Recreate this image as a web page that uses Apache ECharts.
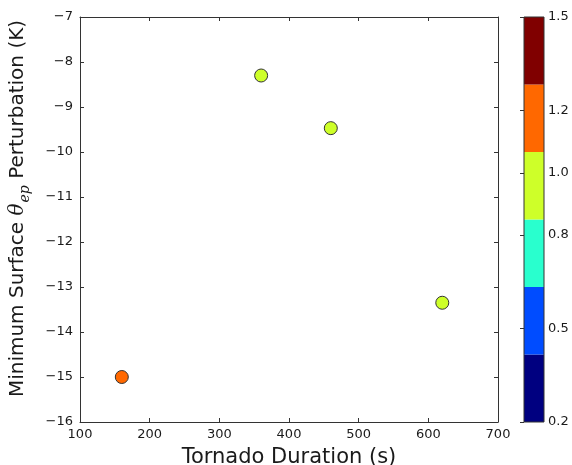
<!DOCTYPE html>
<html>
<head>
<meta charset="utf-8">
<script src="https://cdn.jsdelivr.net/npm/echarts@6/dist/echarts.min.js"></script>
<style>
  html, body { margin: 0; padding: 0; background: #fff; }
  #chart { width: 572px; height: 465px; }
</style>
</head>
<body>
<div id="chart"></div>
<script>
// Tornado duration vs. minimum surface theta_ep perturbation, coloured by a third quantity
const durations = [160, 360, 460, 620];
const thetaPerturbation = [-15.0, -8.3, -9.47, -13.35];
const colorValues = [1.2, 1.0, 1.0, 1.0];

// Discrete colour scale (6 jet levels between 0.2 and 1.5)
const colorEdges = [0.2, 0.4167, 0.6333, 0.85, 1.0667, 1.2833, 1.5];
const colorLevels = ['#000080', '#004cff', '#29ffce', '#ceff29', '#ff6800', '#800000'];
const colorbarTicks = [0.2, 0.5, 0.8, 1.0, 1.2, 1.5];

const FONT = 'DejaVu Sans';
const TXT = '#1a1a1a';
const LINE = '#333333';

const minus = v => String(v).replace('-', '\u2212');

const points = durations.map((d, i) => [d, thetaPerturbation[i], colorValues[i]]);
const bands = colorLevels.map((c, i) => [colorEdges[i], colorEdges[i + 1], i]);

function frameAxis(extra) {
  return Object.assign({
    type: 'value',
    axisLine: { show: true, onZero: false, lineStyle: { color: LINE, width: 1 } },
    axisTick: { show: true, inside: true, length: 4, lineStyle: { color: LINE } },
    splitLine: { show: false },
    axisLabel: { show: false }
  }, extra);
}

const chart = echarts.init(document.getElementById('chart'), null, { renderer: 'canvas' });

chart.setOption({
  animation: false,
  backgroundColor: '#ffffff',
  textStyle: { fontFamily: FONT },
  grid: [
    { left: 80, top: 17, right: 74, bottom: 43, containLabel: false, outerBoundsMode: 'none' },
    { left: 524, top: 17, width: 20, bottom: 43, containLabel: false, outerBoundsMode: 'none' }
  ],
  xAxis: [
    frameAxis({
      gridIndex: 0, position: 'bottom', min: 100, max: 700, interval: 100,
      axisLabel: { show: true, color: TXT, fontSize: 13, fontFamily: FONT, margin: 6 },
      name: 'Tornado Duration (s)', nameLocation: 'middle', nameGap: 25,
      nameTextStyle: { color: TXT, fontSize: 21, fontFamily: FONT, verticalAlign: 'top' }
    }),
    frameAxis({ gridIndex: 0, position: 'top', min: 100, max: 700, interval: 100 }),
    { type: 'value', gridIndex: 1, min: 0, max: 1, show: false }
  ],
  yAxis: [
    frameAxis({
      gridIndex: 0, position: 'left', min: -16, max: -7, interval: 1,
      axisLabel: { show: true, color: TXT, fontSize: 13, fontFamily: FONT, margin: 7, formatter: minus },
      name: '{t|Minimum Surface }{th|θ}{sub|ep}{t| Perturbation (K)}',
      nameLocation: 'middle', nameRotate: 90, nameGap: 48,
      nameTextStyle: {
        color: TXT, fontSize: 20, fontFamily: FONT,
        padding: [0, 0, 0, 22],
        rich: {
          t: { fontSize: 20, fontFamily: FONT, color: TXT, verticalAlign: 'bottom', padding: [0, 0, 4, 0] },
          th: { fontSize: 20, fontFamily: 'DejaVu Serif', fontStyle: 'italic', color: TXT,
                verticalAlign: 'bottom', padding: [0, 1, 4, 0] },
          sub: { fontSize: 14, fontFamily: 'DejaVu Serif', fontStyle: 'italic', color: TXT,
                 verticalAlign: 'bottom' }
        }
      }
    }),
    frameAxis({ gridIndex: 0, position: 'right', min: -16, max: -7, interval: 1 }),
    {
      type: 'value', gridIndex: 1, position: 'right', min: 0.2, max: 1.5,
      axisLine: { show: false },
      splitLine: { show: false },
      axisTick: { show: true, inside: true, length: 4, customValues: colorbarTicks,
                  lineStyle: { color: LINE } },
      axisLabel: { show: true, color: TXT, fontSize: 13, fontFamily: FONT, margin: 4,
                   customValues: colorbarTicks, formatter: v => v.toFixed(1) }
    }
  ],
  visualMap: {
    type: 'piecewise', show: false, seriesIndex: 0, dimension: 2,
    pieces: colorLevels.map((c, i) => ({ gte: colorEdges[i], lt: colorEdges[i + 1], color: c }))
  },
  series: [
    {
      type: 'scatter', xAxisIndex: 0, yAxisIndex: 0,
      data: points, symbolSize: 13,
      itemStyle: { borderColor: '#333', borderWidth: 1, opacity: 1 },
      z: 5
    },
    {
      type: 'custom', xAxisIndex: 2, yAxisIndex: 2, data: bands, z: 2,
      renderItem: function (params, api) {
        const p0 = api.coord([0, api.value(0)]);
        const p1 = api.coord([1, api.value(1)]);
        return {
          type: 'rect',
          shape: { x: p0[0], y: p1[1], width: p1[0] - p0[0], height: p0[1] - p1[1] },
          style: { fill: colorLevels[api.value(2)], stroke: null }
        };
      }
    },
    {
      type: 'custom', xAxisIndex: 2, yAxisIndex: 2, data: [[0.2, 1.5]], z: 3,
      renderItem: function (params, api) {
        const p0 = api.coord([0, api.value(0)]);
        const p1 = api.coord([1, api.value(1)]);
        return {
          type: 'rect',
          shape: { x: p0[0], y: p1[1], width: p1[0] - p0[0], height: p0[1] - p1[1] },
          style: { fill: null, stroke: LINE, lineWidth: 1 }
        };
      }
    }
  ]
});
</script>
</body>
</html>
